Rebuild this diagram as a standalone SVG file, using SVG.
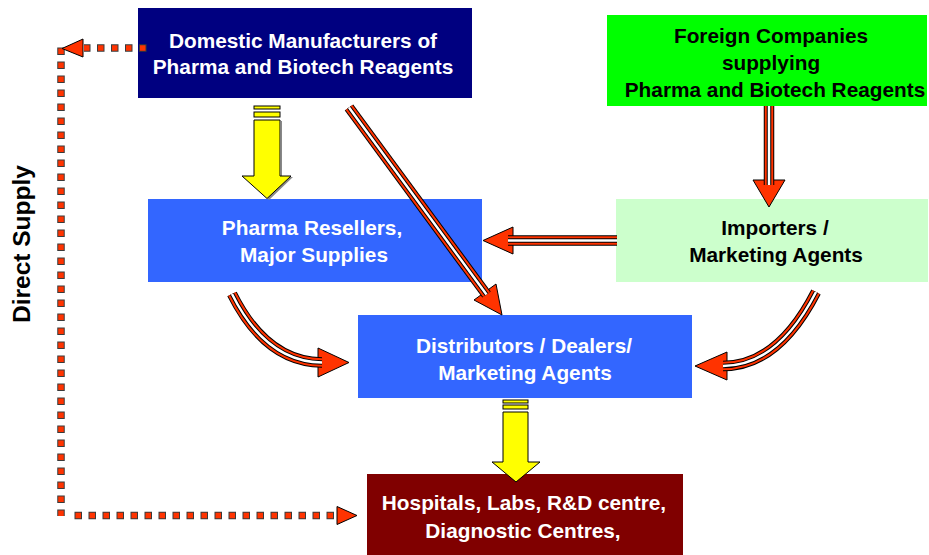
<svg xmlns="http://www.w3.org/2000/svg" width="929" height="555" viewBox="0 0 929 555">
<style>
  .t{font-family:"Liberation Sans",Arial,sans-serif;font-weight:bold;font-size:20.8px;text-anchor:middle}
  .w{fill:#ffffff}
  .k{fill:#000000}
  .head{fill:#ff3300;stroke:#000;stroke-width:1;stroke-linejoin:miter}
  .l1{fill:none;stroke:#000;stroke-width:10.5}
  .l2{fill:none;stroke:#ff3300;stroke-width:8.5}
  .l3{fill:none;stroke:#000;stroke-width:4.5}
  .l4{fill:none;stroke:#fff;stroke-width:2.5}
  .d1{fill:none;stroke:#3a3a3a;stroke-width:7.5;stroke-dasharray:7.5 6.5}
  .d2{fill:none;stroke:#ff3300;stroke-width:5.5;stroke-dasharray:5.5 8.5;stroke-dashoffset:-1}
  .y{fill:#ffff00;stroke:#000;stroke-width:1}
  .ys{fill:#888}
</style>
<defs>
  <path id="pA" d="M349 107.5 L486.5 294.5"/>
  <path id="pB" d="M769 106 V185"/>
  <path id="pC" d="M617 240.5 H508"/>
  <path id="pD" d="M232 294 Q266 362 322 362.5"/>
  <path id="pE" d="M816 292 Q778 366 723 366"/>
</defs>

<g id="domestic">
  <rect x="138" y="8" width="334" height="90" fill="#000080"/>
  <text class="t w" x="303" y="48">Domestic Manufacturers of</text>
  <text class="t w" x="303" y="74">Pharma and Biotech Reagents</text>
</g>
<g id="foreign">
  <rect x="607" y="15" width="320" height="91" fill="#00ff00"/>
  <text class="t k" x="771" y="43">Foreign Companies</text>
  <text class="t k" x="771" y="70">supplying</text>
  <text class="t k" x="775" y="97">Pharma and Biotech Reagents</text>
</g>
<g id="resellers">
  <rect x="148" y="199" width="334" height="83" fill="#3366ff"/>
  <text class="t w" x="312" y="235">Pharma Resellers,</text>
  <text class="t w" x="314" y="262">Major Supplies</text>
</g>
<g id="importers">
  <rect x="616" y="199" width="312" height="83" fill="#ccffcc"/>
  <text class="t k" x="775" y="235">Importers /</text>
  <text class="t k" x="776" y="262">Marketing Agents</text>
</g>
<g id="distributors">
  <rect x="358" y="315" width="334" height="83" fill="#3366ff"/>
  <text class="t w" x="524" y="353">Distributors / Dealers/</text>
  <text class="t w" x="525" y="380">Marketing Agents</text>
</g>
<g id="hospitals">
  <rect x="367" y="474" width="316" height="81" fill="#800000"/>
  <text class="t w" x="524" y="510">Hospitals, Labs, R&amp;D centre,</text>
  <text class="t w" x="523" y="538">Diagnostic Centres,</text>
</g>
<g id="direct-supply-label">
  <text class="t k" transform="translate(30,244) rotate(-90)" x="0" y="0" style="font-size:24.5px">Direct Supply</text>
</g>

<g id="connectors">
  <!-- yellow block arrows -->
  <g id="yellow1">
    <path class="ys" d="M282 121 V177 H293 L269 200 L267 198 L291 176 H281 V121 Z"/>
    <rect class="y" x="254" y="106" width="26" height="3"/>
    <rect class="y" x="254" y="112" width="26" height="5"/>
    <path class="y" d="M254 120 H280 V176 H291 L267 198.5 L242 176 H254 Z"/>
  </g>
  <g id="yellow2">
    <rect class="y" x="503" y="400" width="25" height="3"/>
    <rect class="y" x="503" y="405" width="25" height="4"/>
    <path class="y" d="M503 412 H528 V462 H540 L516 482 L492 462 H503 Z"/>
  </g>

  <!-- red double-line arrows -->
  <polygon class="head" points="474,300 496,284 502,315"/>
  <polygon class="head" points="753,180 785,180 769,207"/>
  <polygon class="head" points="513,227 513,254 483,240.5"/>
  <polygon class="head" points="318,348 318,377 349,362.5"/>
  <polygon class="head" points="727,352 727,380 695,366"/>
  <g>
    <use href="#pA" class="l1"/><use href="#pA" class="l2"/><use href="#pA" class="l3"/><use href="#pA" class="l4"/>
    <use href="#pB" class="l1"/><use href="#pB" class="l2"/><use href="#pB" class="l3"/><use href="#pB" class="l4"/>
    <use href="#pC" class="l1"/><use href="#pC" class="l2"/><use href="#pC" class="l3"/><use href="#pC" class="l4"/>
    <use href="#pD" class="l1"/><use href="#pD" class="l2"/><use href="#pD" class="l3"/><use href="#pD" class="l4"/>
    <use href="#pE" class="l1"/><use href="#pE" class="l2"/><use href="#pE" class="l3"/><use href="#pE" class="l4"/>
  </g>

  <!-- direct supply dotted connector -->
  <path class="d1" d="M146.5 48 H84"/>
  <path class="d2" d="M146.5 48 H84"/>
  <path class="d1" d="M61 47.5 V516"/>
  <path class="d2" d="M61 47.5 V516"/>
  <path class="d1" d="M74.5 515.5 H340"/>
  <path class="d2" d="M74.5 515.5 H340"/>
  <polygon class="head" points="83,39 83,57 62,48.5"/>
  <polygon class="head" points="337,506.5 337,524.5 357,515.5"/>
</g>
</svg>
